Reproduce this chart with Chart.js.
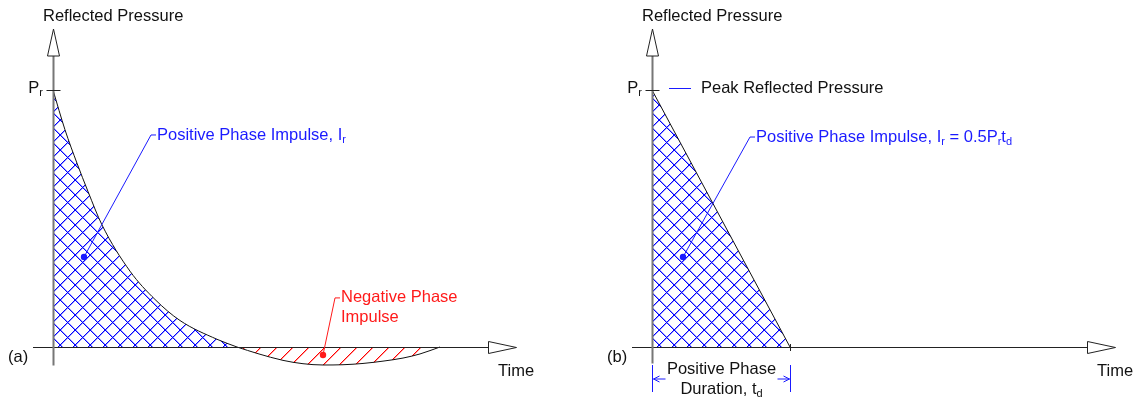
<!DOCTYPE html>
<html>
<head>
<meta charset="utf-8">
<script src="https://cdn.jsdelivr.net/npm/chart.js@4.4.1/dist/chart.umd.min.js"></script>
<style>
  html, body { margin: 0; padding: 0; background: #fff; }
  .panel { position: absolute; top: 0; width: 543px; height: 397px; }
  #panel-a { left: 0; }
  #panel-b { left: 599px; }
</style>
</head>
<body>
<div class="panel" id="panel-a"><canvas id="chart-a" width="543" height="397"></canvas></div>
<div class="panel" id="panel-b"><canvas id="chart-b" width="543" height="397"></canvas></div>
<script>
// (a) blast wave pressure-time history, pressure as a fraction of Pr
const positiveTime = [0, 1.2, 2.4, 3.5, 4.9, 7.7, 10.2, 12.7, 16.4, 18.4]
const positivePressure = [1, 0.845, 0.715, 0.605, 0.475, 0.295, 0.185, 0.103, 0.030, 0]
const negativeTime = [18.4, 20.5, 23.0, 25.0, 27.0, 29.0, 31.0, 33.0, 35.0, 36.7, 38.7]
const negativePressure = [0, -0.026, -0.052, -0.065, -0.070, -0.069, -0.064, -0.055, -0.043, -0.027, 0]

// (b) equivalent triangular pulse
const triangleTime = [0, 13.8]
const trianglePressure = [1, 0]

const FONT = "16.5px 'Liberation Sans', Arial, sans-serif"
const SUB_FONT = "11px 'Liberation Sans', Arial, sans-serif"
const BLUE = '#1a1aff'
const RED = '#ff1a1a'

const toPoints = (xs, ys) => xs.map((x, i) => ({ x: x, y: ys[i] }))

// stepped diagonal hatch tile: a solid pixel plus a lighter neighbour per row
const makeHatch = (color, soft, size, cross) => {
    const c = document.createElement('canvas')
    c.width = size
    c.height = size
    const g = c.getContext('2d')
    const put = (x, y, col) => { g.fillStyle = col; g.fillRect(x % size, y, 1, 1) }
    for (let i = 0; i < size; i++) {
        put(i + 1, size - 1 - i, soft)
        if (cross) put(i + 1, i, soft)
    }
    for (let i = 0; i < size; i++) {
        put(i, size - 1 - i, color)
        if (cross) put(i, i, color)
    }
    return g.createPattern(c, 'repeat')
}

const blueHatch = makeHatch('#0000ff', '#9a9aff', 15, true)
const redHatch = makeHatch('#ff0000', '#ff9a9a', 16, false)

// text with subscripts: parts = [[text, isSub], ...]
const richWidth = (ctx, parts) => parts.reduce((w, p) => {
    ctx.font = p[1] ? SUB_FONT : FONT
    return w + ctx.measureText(p[0]).width
}, 0)

const drawRich = (ctx, parts, x, y, color, align) => {
    let cx = x
    const w = richWidth(ctx, parts)
    if (align === 'center') cx = x - w / 2
    if (align === 'right') cx = x - w
    ctx.fillStyle = color
    ctx.textBaseline = 'middle'
    ctx.textAlign = 'left'
    for (const p of parts) {
        ctx.font = p[1] ? SUB_FONT : FONT
        ctx.fillText(p[0], cx, p[1] ? y + 5 : y)
        cx += ctx.measureText(p[0]).width
    }
}

const line = (ctx, pts, color, width) => {
    ctx.strokeStyle = color
    ctx.lineWidth = width
    ctx.beginPath()
    pts.forEach((p, i) => i ? ctx.lineTo(p[0], p[1]) : ctx.moveTo(p[0], p[1]))
    ctx.stroke()
}

const arrowHead = (ctx, pts) => {
    ctx.beginPath()
    pts.forEach((p, i) => i ? ctx.lineTo(p[0], p[1]) : ctx.moveTo(p[0], p[1]))
    ctx.closePath()
    ctx.fillStyle = '#fff'
    ctx.fill()
    ctx.strokeStyle = '#222'
    ctx.lineWidth = 1
    ctx.stroke()
}

const dot = (ctx, x, y, color) => {
    ctx.fillStyle = color
    ctx.beginPath()
    ctx.arc(x, y, 3.2, 0, Math.PI * 2)
    ctx.fill()
}

// axes with open arrowheads, Pr tick and panel letter
const axesPlugin = {
    id: 'axes',
    afterDatasetsDraw(chart, args, opts) {
        const ctx = chart.ctx
        const sx = chart.scales.x, sy = chart.scales.y
        const x0 = Math.round(sx.getPixelForValue(0)) + 0.5
        const y0 = Math.round(sy.getPixelForValue(0)) + 0.5
        const yTop = Math.round(sy.getPixelForValue(1)) + 0.5
        ctx.save()
        // time axis
        line(ctx, [[sx.left, y0], [x0 + 435, y0]], '#222', 1)
        arrowHead(ctx, [[x0 + 435, y0 - 6], [x0 + 463, y0], [x0 + 435, y0 + 6]])
        // pressure axis
        line(ctx, [[x0, y0 + opts.axisBelow], [x0, 56]], '#777', 2)
        arrowHead(ctx, [[x0 - 6, 56], [x0, 29], [x0 + 6, 56]])
        // Pr tick
        line(ctx, [[x0 - 7, yTop], [x0 + 7, yTop]], '#222', 1)
        ctx.restore()
    },
    afterDraw(chart, args, opts) {
        const ctx = chart.ctx
        const sx = chart.scales.x, sy = chart.scales.y
        const x0 = sx.getPixelForValue(0)
        const y0 = sy.getPixelForValue(0)
        ctx.save()
        drawRich(ctx, [['Reflected Pressure', false]], x0 - 10, 16, '#111', 'left')
        drawRich(ctx, [['P', false], ['r', true]], x0 - 10, sy.getPixelForValue(1) - 2, '#111', 'right')
        drawRich(ctx, [['Time', false]], x0 + 445, y0 + 24, '#111', 'left')
        drawRich(ctx, [[opts.letter, false]], 8, y0 + 10, '#111', 'left')
        for (const note of opts.notes) note(ctx, sx, sy)
        ctx.restore()
    }
}

// leader from a dot inside the area to an elbow, then the label
const leaderLabel = (at, elbow, parts, color) => (ctx, sx, sy) => {
    const dx = sx.getPixelForValue(at[0]), dy = sy.getPixelForValue(at[1])
    const ex = sx.getPixelForValue(elbow[0]), ey = sy.getPixelForValue(elbow[1])
    line(ctx, [[dx, dy], [ex, ey], [ex + 5, ey]], color, 1)
    dot(ctx, dx, dy, color)
    parts.forEach((p, i) => drawRich(ctx, p, ex + 6, ey + i * 20, color, 'left'))
}

const peakLabel = (ctx, sx, sy) => {
    const y = sy.getPixelForValue(1) - 1.5
    line(ctx, [[sx.getPixelForValue(1.7), y], [sx.getPixelForValue(3.9), y]], BLUE, 1)
    drawRich(ctx, [['Peak Reflected Pressure', false]], sx.getPixelForValue(4.9), y, '#111', 'left')
}

const durationLabel = (ctx, sx, sy) => {
    const xa = Math.round(sx.getPixelForValue(0)) + 0.5
    const xb = Math.round(sx.getPixelForValue(triangleTime[1])) + 0.5
    const y0 = sy.getPixelForValue(0)
    line(ctx, [[xa, y0 + 18], [xa, y0 + 45]], BLUE, 1)
    line(ctx, [[xb, y0 + 18], [xb, y0 + 45]], BLUE, 1)
    const ya = y0 + 32
    line(ctx, [[xa + 1, ya], [xa + 13, ya]], BLUE, 1)
    line(ctx, [[xa + 7, ya - 3], [xa + 1, ya], [xa + 7, ya + 3]], BLUE, 1)
    line(ctx, [[xb - 13, ya], [xb - 1, ya]], BLUE, 1)
    line(ctx, [[xb - 7, ya - 3], [xb - 1, ya], [xb - 7, ya + 3]], BLUE, 1)
    // small tick where the pulse ends
    line(ctx, [[xb, y0 - 3], [xb, y0 + 4]], '#222', 1)
    const xm = (xa + xb) / 2
    drawRich(ctx, [['Positive Phase', false]], xm, y0 + 22, '#111', 'center')
    drawRich(ctx, [['Duration, t', false], ['d', true]], xm, y0 + 42, '#111', 'center')
}

const curve = (points, fillStyle, tension) => ({
    data: points,
    borderColor: '#111',
    borderWidth: 1,
    backgroundColor: fillStyle,
    fill: 'origin',
    tension: tension,
    cubicInterpolationMode: tension ? 'monotone' : 'default',
    pointRadius: 0
})

const makeChart = (id, datasets, axesOpts) => new Chart(document.getElementById(id), {
    type: 'line',
    data: { datasets: datasets },
    options: {
        responsive: false,
        animation: false,
        events: [],
        layout: { padding: { left: 33, right: 10, top: 25.75, bottom: 11.45 } },
        scales: {
            x: { type: 'linear', min: -2, max: 48, display: false },
            y: { type: 'linear', min: -0.15, max: 1.25, display: false }
        },
        plugins: {
            legend: { display: false },
            tooltip: { enabled: false },
            axes: axesOpts
        }
    },
    plugins: [axesPlugin]
})

makeChart('chart-a', [
    curve(toPoints(positiveTime, positivePressure), blueHatch, 0.4),
    curve(toPoints(negativeTime, negativePressure), redHatch, 0.4)
], {
    letter: '(a)',
    axisBelow: 18,
    notes: [
        leaderLabel([3.1, 0.35], [9.8, 0.825], [[['Positive Phase Impulse, I', false], ['r', true]]], BLUE),
        leaderLabel([27.0, -0.031], [28.2, 0.191], [[['Negative Phase', false]], [['Impulse', false]]], RED)
    ]
})

makeChart('chart-b', [
    curve(toPoints(triangleTime, trianglePressure), blueHatch, 0)
], {
    letter: '(b)',
    axisBelow: 16,
    notes: [
        peakLabel,
        leaderLabel([3.1, 0.35], [9.8, 0.817], [[['Positive Phase Impulse, I', false], ['r', true],
            [' = 0.5P', false], ['r', true], ['t', false], ['d', true]]], BLUE),
        durationLabel
    ]
})
</script>
</body>
</html>
